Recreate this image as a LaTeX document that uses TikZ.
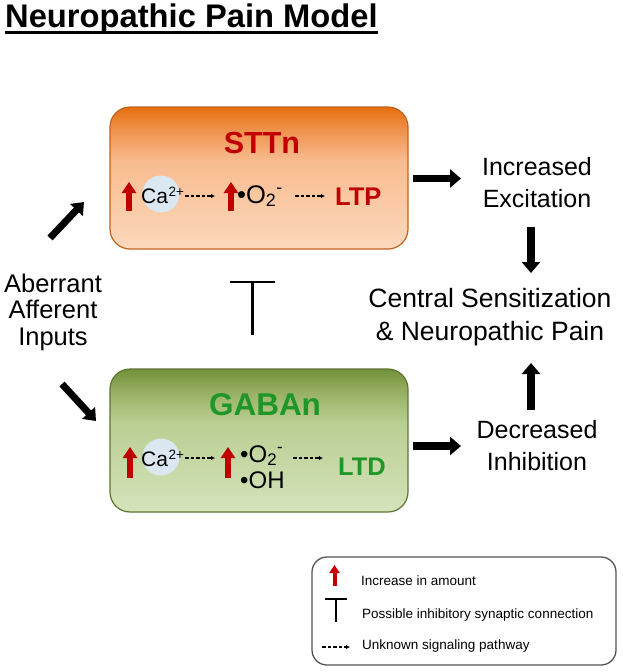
\documentclass[tikz,border=0pt]{standalone}
\usepackage{fontspec}
\setmainfont{Liberation Sans}
\usetikzlibrary{arrows.meta}
\definecolor{myred}{HTML}{C00000}
\definecolor{mygreen}{HTML}{1E9628}
\definecolor{sttnT}{HTML}{E5700F}
\definecolor{sttnU}{HTML}{F0914B}
\definecolor{sttnM}{HTML}{F8BC90}
\definecolor{sttnB}{HTML}{FCD8BB}
\definecolor{sttnEdge}{HTML}{BF621E}
\definecolor{gabaT}{HTML}{73903A}
\definecolor{gabaU}{HTML}{98B063}
\definecolor{gabaM}{HTML}{BACF93}
\definecolor{gabaB}{HTML}{D5E3BB}
\definecolor{gabaEdge}{HTML}{5C7530}
\definecolor{cablue}{HTML}{DCE8F1}
\definecolor{legedge}{HTML}{555555}
\pgfdeclareverticalshading{sttnsh}{100bp}{color(0bp)=(sttnB); color(25bp)=(sttnB); color(56bp)=(sttnM); color(67bp)=(sttnU); color(75bp)=(sttnT); color(100bp)=(sttnT)}
\pgfdeclareverticalshading{gabash}{100bp}{color(0bp)=(gabaB); color(25bp)=(gabaB); color(56bp)=(gabaM); color(67bp)=(gabaU); color(75bp)=(gabaT); color(100bp)=(gabaT)}
\newcommand\myfs[1]{\fontsize{#1}{#1}\selectfont}
\newcommand\casup{Ca\kern0.5pt\raisebox{6.5pt}{\myfs{13.5}2+}}
\begin{document}
\begin{tikzpicture}[x=1pt,y=-1pt,
  lbl/.style={inner sep=0pt, anchor=base},
  lblw/.style={inner sep=0pt, anchor=base west},
  cellbox/.style={rectangle, rounded corners=20pt, line width=1.2pt, minimum width=298pt, minimum height=142pt, inner sep=0pt},
  bigarrow/.style={line width=7.5pt, -{Triangle[length=11pt,width=18pt]}},
  diagarrow/.style={line width=7pt, -{Triangle[length=11pt,width=17pt]}},
  redarrow/.style={draw=myred, line width=6pt, -{Triangle[length=11pt,width=14pt]}},
  dasharr/.style={line width=1.2pt, dash pattern=on 3.5pt off 2pt, -{Latex[length=4pt,width=4.5pt]}},
  cacirc/.style={circle, fill=cablue, minimum size=37pt, inner sep=0pt},
  tbar/.style={line width=2.8pt}
]
\useasboundingbox (0,0) rectangle (622,672);

% title
\node[lblw, font=\bfseries\myfs{32.7}] (title) at (5,27.5) {Neuropathic Pain Model};
\draw[line width=3pt] ([yshift=-4.5pt]title.base west) -- ([yshift=-4.5pt]title.base east);

% boxes
\node[cellbox, draw=sttnEdge, shading=sttnsh] (sttn) at (259,178) {};
\node[cellbox, draw=gabaEdge, shading=gabash, minimum height=143pt] (gaba) at (259,440.5) {};

% STTn content
\node[lbl, font=\bfseries\myfs{30.5}, text=myred] (sttnlbl) at (262,153) {STTn};
\node[cacirc] (ca1) at (161,194) {};
\node[lblw, font=\myfs{21}] (ca1t) at (141,203) {\casup};
\coordinate (r1a) at (129,211); \coordinate (r1b) at (129,182);
\draw[redarrow] (r1a) -- (r1b);
\coordinate (d1a) at (185,196); \coordinate (d1b) at (215,196);
\draw[dasharr] (d1a) -- (d1b);
\coordinate (r2a) at (231,211); \coordinate (r2b) at (231,182);
\draw[redarrow] (r2a) -- (r2b);
\node[lblw, font=\myfs{25.5}] (o2a) at (237,203) {•O\textsubscript{2}\textsuperscript{-}};
\coordinate (d2a) at (295,196); \coordinate (d2b) at (325,196);
\draw[dasharr] (d2a) -- (d2b);
\node[lblw, font=\bfseries\myfs{25.5}, text=myred] (ltp) at (335,205) {LTP};

% GABAn content
\node[lbl, font=\bfseries\myfs{31.5}, text=mygreen] (gabalbl) at (265,415) {GABAn};
\node[cacirc] (ca2) at (161,457) {};
\node[lblw, font=\myfs{21}] (ca2t) at (141,466) {\casup};
\coordinate (r3a) at (130,478); \coordinate (r3b) at (130,447);
\draw[redarrow] (r3a) -- (r3b);
\coordinate (d3a) at (185,458); \coordinate (d3b) at (215,458);
\draw[dasharr] (d3a) -- (d3b);
\coordinate (r4a) at (228,478); \coordinate (r4b) at (228,447);
\draw[redarrow] (r4a) -- (r4b);
\node[lblw, font=\myfs{24}] (o2b) at (240,462) {•O\textsubscript{2}\textsuperscript{-}};
\node[lblw, font=\myfs{24}] (ohb) at (240,488) {•OH};
\coordinate (d4a) at (293,458); \coordinate (d4b) at (323,458);
\draw[dasharr] (d4a) -- (d4b);
\node[lblw, font=\bfseries\myfs{25.5}, text=mygreen] (ltd) at (338,475) {LTD};

% inhibitory T between boxes
\coordinate (tl) at (230,282); \coordinate (tr) at (275,282);
\coordinate (tt) at (252.5,282); \coordinate (tb) at (252.5,335);
\draw[tbar] (tl) -- (tr);
\draw[tbar] (tt) -- (tb);

% left labels
\node[lbl, font=\myfs{25.5}] (ab1) at (53,292) {Aberrant};
\node[lbl, font=\myfs{25.5}] (ab2) at (53,318) {Afferent};
\node[lbl, font=\myfs{25.5}] (ab3) at (53,345) {Inputs};
\coordinate (ua) at (50,238); \coordinate (ub) at (84,202);
\draw[diagarrow] (ua) -- (ub);
\coordinate (la) at (62,384); \coordinate (lb) at (96,421);
\draw[diagarrow] (la) -- (lb);

% right labels
\node[lbl, font=\myfs{25}] (inc1) at (537,175) {Increased};
\node[lbl, font=\myfs{25}] (inc2) at (537,207) {Excitation};
\node[lbl, font=\myfs{26.5}] (cen1) at (490,307) {Central Sensitization};
\node[lbl, font=\myfs{26.5}] (cen2) at (490,340) {\& Neuropathic Pain};
\node[lbl, font=\myfs{25}] (dec1) at (537,438) {Decreased};
\node[lbl, font=\myfs{25}] (dec2) at (537,470) {Inhibition};

\coordinate (e1a) at (413,178.5); \coordinate (e1b) at (461,178.5);
\draw[bigarrow] (e1a) -- (e1b);
\coordinate (e2a) at (413,446); \coordinate (e2b) at (461,446);
\draw[bigarrow] (e2a) -- (e2b);
\coordinate (v1a) at (531,227); \coordinate (v1b) at (531,273);
\draw[bigarrow] (v1a) -- (v1b);
\coordinate (v2a) at (531,410); \coordinate (v2b) at (531,363);
\draw[bigarrow] (v2a) -- (v2b);

% legend
\node[draw=legedge, line width=1.3pt, rounded corners=15pt, minimum width=304pt, minimum height=108pt, inner sep=0pt] (legend) at (464,611) {};
\coordinate (lr1) at (334.5,586); \coordinate (lr2) at (334.5,565);
\draw[redarrow, line width=4pt, -{Triangle[length=8pt,width=10pt]}] (lr1) -- (lr2);
\node[lblw, font=\myfs{13.5}] (leg1) at (361,585) {Increase in amount};
\coordinate (ltl) at (325,599); \coordinate (ltr) at (347,599);
\coordinate (ltt) at (336,599); \coordinate (ltb) at (336,622);
\draw[line width=2.2pt] (ltl) -- (ltr);
\draw[line width=2.2pt] (ltt) -- (ltb);
\node[lblw, font=\myfs{13.5}] (leg2) at (362,618) {Possible inhibitory synaptic connection};
\coordinate (lda) at (322,647); \coordinate (ldb) at (350,647);
\draw[dasharr] (lda) -- (ldb);
\node[lblw, font=\myfs{13.5}] (leg3) at (362,649) {Unknown signaling pathway};
\end{tikzpicture}
\end{document}
